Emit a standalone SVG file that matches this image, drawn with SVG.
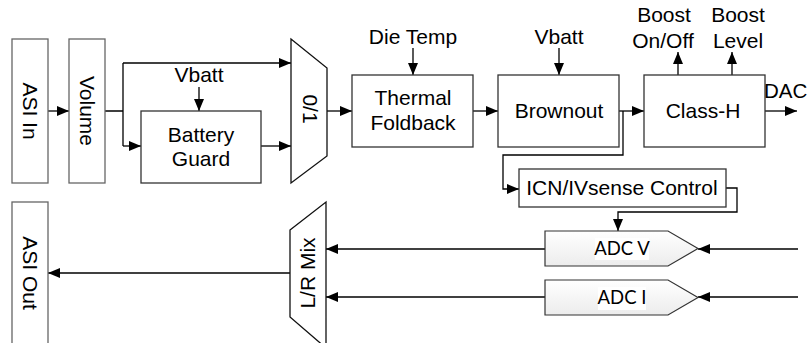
<svg xmlns="http://www.w3.org/2000/svg" width="809" height="343" viewBox="0 0 809 343">
<defs>
<marker id="ah" viewBox="0 0 12 10" refX="12" refY="5" markerWidth="12" markerHeight="10" orient="auto" markerUnits="userSpaceOnUse"><path d="M0,0 L12,5 L0,10 z" fill="#000"/></marker>
<linearGradient id="adcg" x1="0" y1="0" x2="0" y2="1"><stop offset="0" stop-color="#ffffff"/><stop offset="1" stop-color="#ececec"/></linearGradient>
<style>
.t{font-family:"Liberation Sans",Arial,sans-serif;font-size:21px;fill:#000;text-anchor:middle}
.a{font-family:Lato,"Open Sans",sans-serif;font-size:18.5px;fill:#000;text-anchor:middle}
.box{fill:#fff;stroke:#333;stroke-width:1.3}
.gbox{fill:#fff;stroke:#666;stroke-width:1.3}
.mux{fill:#fff;stroke:#111;stroke-width:1.3}
.adc{fill:url(#adcg);stroke:#333;stroke-width:1.2}
.w{fill:none;stroke:#000;stroke-width:1.3}
.arr{fill:none;stroke:#000;stroke-width:1.3;marker-end:url(#ah)}
</style>
</defs>
<rect width="809" height="343" fill="#fff"/>
<g id="connectors">
<path class="arr" d="M48,111 H69"/>
<path class="w" d="M105,111 H123 M123,63 V146"/>
<path class="arr" d="M123,63 H291"/>
<path class="arr" d="M123,146 H141"/>
<path class="arr" d="M199,87 V111"/>
<path class="arr" d="M261,146 H291"/>
<path class="arr" d="M327,111 H352"/>
<path class="arr" d="M413,48 V75"/>
<path class="arr" d="M473,111 H498"/>
<path class="arr" d="M559,48 V75"/>
<path class="arr" d="M619,111 H644"/>
<path class="arr" d="M623,111 V155 H503 V189 H519"/>
<path class="arr" d="M678,75 V52"/>
<path class="arr" d="M732,75 V52"/>
<path class="arr" d="M765,111 H797"/>
<path class="arr" d="M726,188 H737 V212 H618 V231"/>
<path class="arr" d="M798,249 H698"/>
<path class="arr" d="M798,297 H698"/>
<path class="arr" d="M545,249 H326"/>
<path class="arr" d="M545,297 H326"/>
<path class="arr" d="M290,273 H48"/>
</g>
<g id="asi-in"><rect class="gbox" x="12" y="39" width="36" height="144"/><text class="t" transform="translate(30,111) rotate(90)" dy="0.35em">ASI In</text></g>
<g id="volume"><rect class="gbox" x="69" y="39" width="36" height="144"/><text class="t" transform="translate(87,111) rotate(90)" dy="0.35em">Volume</text></g>
<g id="vbatt-1"><text class="t" x="199" y="82">Vbatt</text></g>
<g id="battery-guard"><rect class="box" x="141" y="111" width="120" height="72"/><text class="t" x="201" y="141.5">Battery</text><text class="t" x="201" y="165.5">Guard</text></g>
<g id="mux"><polygon class="mux" points="291,39 327,68 327,156 291,183"/><text class="t" transform="translate(310,109) rotate(90)" dy="0.35em">0/1</text></g>
<g id="die-temp"><text class="t" x="413" y="44">Die Temp</text></g>
<g id="thermal-foldback"><rect class="box" x="352" y="75" width="121" height="72"/><text class="t" x="413" y="105">Thermal</text><text class="t" x="413" y="130">Foldback</text></g>
<g id="vbatt-2"><text class="t" x="559" y="44">Vbatt</text></g>
<g id="brownout"><rect class="box" x="498" y="75" width="121" height="72"/><text class="t" x="559" y="118">Brownout</text></g>
<g id="boost-onoff"><text class="t" x="664" y="22">Boost</text><text class="t" x="663" y="48">On/Off</text></g>
<g id="boost-level"><text class="t" x="738" y="22">Boost</text><text class="t" x="738" y="48">Level</text></g>
<g id="class-h"><rect class="box" x="644" y="75" width="121" height="72"/><text class="t" x="703" y="118">Class-H</text></g>
<g id="dac"><text class="t" x="764" y="98" style="text-anchor:start;font-size:20.5px">DAC</text></g>
<g id="icn"><rect class="box" x="519" y="169" width="207" height="38"/><text class="t" x="622" y="195">ICN/IVsense Control</text></g>
<g id="adc-v"><polygon class="adc" points="545,231 668,231 698,248.5 668,266 545,266"/><rect x="595" y="238" width="54" height="22" fill="#fff"/><text class="a" x="622" y="254.5">ADC V</text></g>
<g id="adc-i"><polygon class="adc" points="545,280 668,280 698,297.5 668,315 545,315"/><rect x="598" y="287" width="48" height="23" fill="#fff"/><text class="a" x="622" y="303.5">ADC I</text></g>
<g id="lr-mix"><polygon class="mux" points="290,230 326,202 326,348 290,317"/><text class="t" transform="translate(308,273) rotate(-90)" dy="0.35em">L/R Mix</text></g>
<g id="asi-out"><rect class="gbox" x="12" y="202" width="36" height="150"/><text class="t" transform="translate(30,273) rotate(90)" dy="0.35em">ASI Out</text></g>
</svg>
